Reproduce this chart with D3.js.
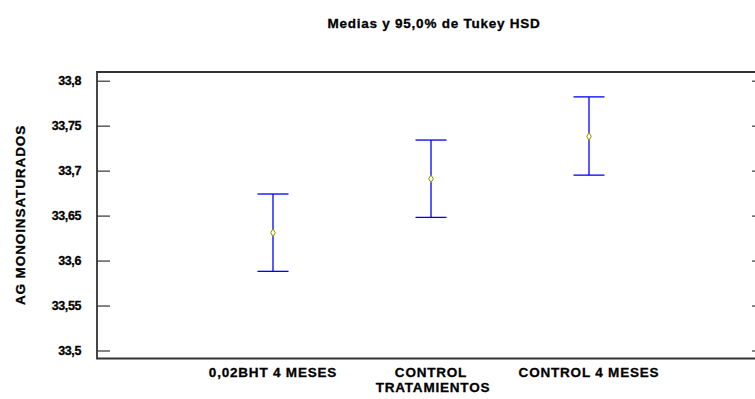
<!DOCTYPE html>
<html>
<head>
<meta charset="utf-8">
<script src="https://cdn.jsdelivr.net/npm/d3@7"></script>
<style>
  html, body { margin: 0; padding: 0; background: #fff; }
  svg { display: block; }
  text { font-family: "Liberation Sans", Arial, sans-serif; font-weight: 700; fill: #000; stroke: #000; stroke-width: 0.3px; }
</style>
</head>
<body>
<svg id="chart" width="755" height="399"></svg>
<script>
// Group means with Tukey HSD 95% interval limits
const categories = ["0,02BHT 4 MESES", "CONTROL", "CONTROL 4 MESES"];
const means = [33.631, 33.691, 33.738];
const lower = [33.588, 33.648, 33.695];
const upper = [33.674, 33.734, 33.782];
const yTicks = [33.5, 33.55, 33.6, 33.65, 33.7, 33.75, 33.8];
const yTickLabels = ["33,5", "33,55", "33,6", "33,65", "33,7", "33,75", "33,8"];

const svg = d3.select("#chart");
const frame = { left: 97, right: 765, top: 72, bottom: 358.5 };

const y = d3.scaleLinear().domain([33.5, 33.8]).range([350.5, 80.7]);
const x = d3.scalePoint().domain(categories).range([273, 589]);

// Title
svg.append("text")
  .attr("x", 434).attr("y", 28)
  .attr("text-anchor", "middle")
  .style("font-size", "13.5px")
  .style("letter-spacing", "0.75px")
  .text("Medias y 95,0% de Tukey HSD");

// Frame
const frameColor = "#333";
svg.append("path")
  .attr("d", `M${frame.right},${frame.top}H${frame.left}V${frame.bottom}H${frame.right}`)
  .attr("fill", "none").attr("stroke", frameColor).attr("stroke-width", 1.8);
svg.append("line")
  .attr("x1", frame.right).attr("x2", frame.right)
  .attr("y1", frame.top).attr("y2", frame.bottom)
  .attr("stroke", frameColor).attr("stroke-width", 1.8);

// Left axis: inward ticks with labels
const leftAxis = d3.axisRight(y).tickValues(yTicks).tickSize(13).tickFormat("");
const gl = svg.append("g").attr("transform", `translate(${frame.left},0)`).call(leftAxis);
gl.select(".domain").remove();
gl.selectAll(".tick line").attr("stroke", frameColor).attr("stroke-width", 1.2);

svg.append("g").selectAll("text")
  .data(yTicks)
  .join("text")
  .attr("x", 81)
  .attr("y", d => y(d))
  .attr("dy", "0.36em")
  .attr("text-anchor", "end")
  .style("font-size", "12.5px")
  .style("letter-spacing", "-0.4px")
  .text((d, i) => yTickLabels[i]);

// Right axis: inward ticks
const rightAxis = d3.axisLeft(y).tickValues(yTicks).tickSize(13).tickFormat("");
const gr = svg.append("g").attr("transform", `translate(${frame.right},0)`).call(rightAxis);
gr.select(".domain").remove();
gr.selectAll(".tick line").attr("stroke", frameColor).attr("stroke-width", 1.2);

// Axis titles
svg.append("text")
  .attr("transform", `translate(25,215) rotate(-90)`)
  .attr("text-anchor", "middle")
  .style("font-size", "13.5px")
  .style("letter-spacing", "0.9px")
  .text("AG MONOINSATURADOS");

svg.append("g").selectAll("text")
  .data(categories)
  .join("text")
  .attr("x", d => x(d))
  .attr("y", 377)
  .attr("text-anchor", "middle")
  .style("font-size", "13.5px")
  .style("letter-spacing", "0.8px")
  .text(d => d);

svg.append("text")
  .attr("x", 433).attr("y", 392)
  .attr("text-anchor", "middle")
  .style("font-size", "13.5px")
  .style("letter-spacing", "0.8px")
  .text("TRATAMIENTOS");

// Interval bars
const capHalf = 15.5;
const bars = svg.append("g").attr("stroke", "#0000ff").attr("stroke-width", 1.3).attr("fill", "none");
categories.forEach((c, i) => {
  const cx = x(c);
  bars.append("line").attr("x1", cx).attr("x2", cx).attr("y1", y(upper[i])).attr("y2", y(lower[i]));
  bars.append("line").attr("x1", cx - capHalf).attr("x2", cx + capHalf).attr("y1", y(upper[i])).attr("y2", y(upper[i]));
  bars.append("line").attr("x1", cx - capHalf).attr("x2", cx + capHalf).attr("y1", y(lower[i])).attr("y2", y(lower[i]));
});

// Mean markers
const diamond = d3.symbol().type(d3.symbolDiamond).size(18);
svg.append("g").selectAll("path")
  .data(categories)
  .join("path")
  .attr("transform", (d, i) => `translate(${x(d)},${y(means[i])})`)
  .attr("d", diamond)
  .attr("fill", "#ffffee")
  .attr("stroke", "#8c8c00")
  .attr("stroke-width", 1);
</script>
</body>
</html>
